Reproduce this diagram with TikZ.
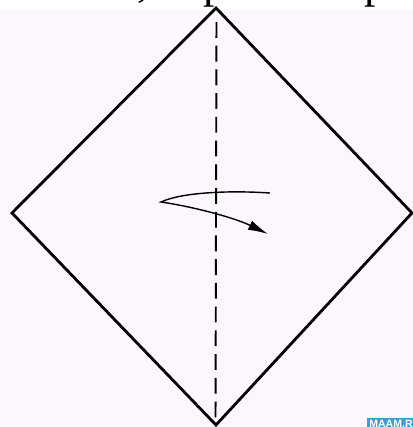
\documentclass[tikz,border=0pt]{standalone}
\usepackage{fontspec}
\setmainfont{Liberation Serif}
\setsansfont{Liberation Sans}
\usetikzlibrary{arrows.meta}
\definecolor{paper}{HTML}{FCF7FC}
\definecolor{maamblue}{HTML}{3A9FD6}
\begin{document}
\begin{tikzpicture}[
            x=0.02cm, y=-0.02cm,
            edge/.style={line width=1.6pt, line join=miter},
            fold/.style={line width=1.1pt, dash pattern=on 9pt off 4.5pt},
            turn/.style={line width=0.8pt, -{Latex[length=4mm,width=2mm]}},
            cut/.style={inner sep=0pt, font=\fontsize{26}{26}\selectfont}
            ]
            \useasboundingbox (0,0) rectangle (413,427);
            \fill[paper] (0,10) rectangle (413,427);
            % cropped line of text above
            \begin{scope}
            \clip (0,0) rectangle (413,10);
            \node[cut, anchor=base] (comma) at (143,-4) {,};
            \node[cut, anchor=base] (r1) at (215,-3) {р};
            \node[cut, anchor=base] (r2) at (376,-3) {р};
            \end{scope}
            % square sheet
            \coordinate (t) at (216,8);
            \coordinate (l) at (12,213);
            \coordinate (r) at (412,213);
            \coordinate (b) at (216,425);
            \draw[edge] (t)--(l)--(b)--(r)--cycle;
            \draw[fold] (216.5,22)--(215.5,420);
            % turn over arrow
            \coordinate (s) at (270,193);
            \coordinate (k) at (161,202);
            \coordinate (e) at (268,234);
            \draw[turn] (s) .. controls (225,190) and (180,193) .. (k)
                        .. controls (195,207) and (235,218) .. (e);
            % watermark
            \begin{scope}
            \clip (0,0) rectangle (413,427);
            \fill[maamblue] (367,418) rectangle (420,432);
            \node[inner sep=0pt, anchor=west, text=white, font=\sffamily\bfseries\fontsize{6}{6}\selectfont] (mark) at (369,424) {MAAM.RU};
            \end{scope}
\end{tikzpicture}
\end{document}
